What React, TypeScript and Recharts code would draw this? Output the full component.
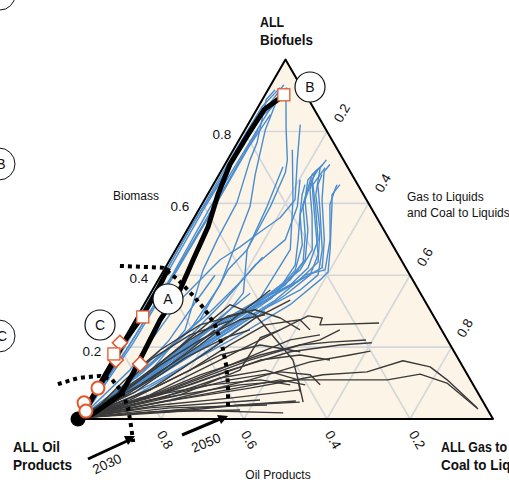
import { ComposedChart, Line, Scatter, XAxis, YAxis, ReferenceArea } from 'recharts';

// ternary points are [biofuel share, gas/coal-to-liquids share]; oil = 1 - both
type Tern = [number, number];

const SQ = Math.sqrt(3) / 2;
const toXY = (pts: Tern[]) => pts.map(([b, g]) => ({ x: g + b / 2, y: b * SQ }));

const BLUE = '#4a8dcf';
const GREY = '#3a3a3a';
const ORANGE = '#e2592c';
const FONT = "'Liberation Sans', Arial, sans-serif";

const gridLevels = [0.2, 0.4, 0.6, 0.8];
const leftTicks = ['0.2', '0.4', '0.6', '0.8'];
const rightTicks = ['0.2', '0.4', '0.6', '0.8'];
const bottomTicks = ['0.8', '0.6', '0.4', '0.2'];

// scenario pathways that end strongly in biofuels (blue)
const hook1: Tern[] = [[0, 0], [0.095, 0.078], [0.234, 0.177], [0.331, 0.273], [0.387, 0.342], [0.421, 0.378], [0.499, 0.344], [0.61, 0.283], [0.688, 0.249], [0.708, 0.253]];
const hook2: Tern[] = [[0, 0], [0.095, 0.09], [0.248, 0.194], [0.331, 0.286], [0.382, 0.339], [0.437, 0.36], [0.526, 0.32], [0.624, 0.261], [0.699, 0.234], [0.721, 0.238]];
const hook3: Tern[] = [[0.003, 0.004], [0.109, 0.095], [0.262, 0.199], [0.351, 0.288], [0.415, 0.328], [0.471, 0.329], [0.568, 0.28], [0.638, 0.24], [0.688, 0.227], [0.708, 0.236]];
const hook4: Tern[] = [[0.003, 0.004], [0.081, 0.085], [0.206, 0.179], [0.318, 0.268], [0.387, 0.318], [0.443, 0.326], [0.526, 0.291], [0.61, 0.242], [0.666, 0.221], [0.694, 0.231]];
const hook5: Tern[] = [[0.006, 0.007], [0.095, 0.102], [0.234, 0.225], [0.331, 0.31], [0.401, 0.347], [0.415, 0.388], [0.499, 0.358], [0.596, 0.309], [0.638, 0.3], [0.652, 0.298]];
const hook6: Tern[] = [[0.003, 0.004], [0.109, 0.119], [0.248, 0.23], [0.337, 0.299], [0.415, 0.316], [0.485, 0.298], [0.568, 0.251], [0.624, 0.228], [0.652, 0.221]];
const hook7: Tern[] = [[0.003, 0.004], [0.075, 0.076], [0.192, 0.162], [0.29, 0.245], [0.373, 0.313], [0.437, 0.324], [0.513, 0.291], [0.596, 0.244], [0.68, 0.224], [0.699, 0.234]];
const hook8: Tern[] = [[0.006, 0.007], [0.1, 0.111], [0.22, 0.22], [0.312, 0.302], [0.359, 0.356], [0.401, 0.378], [0.471, 0.353], [0.582, 0.292], [0.652, 0.252], [0.68, 0.248]];
const hook9: Tern[] = [[0.003, 0.004], [0.123, 0.137], [0.262, 0.259], [0.345, 0.327], [0.401, 0.359], [0.457, 0.35], [0.554, 0.294], [0.624, 0.254], [0.666, 0.231], [0.694, 0.231]];
const hook10: Tern[] = [[0.003, 0.004], [0.095, 0.098], [0.226, 0.193], [0.304, 0.262], [0.373, 0.325], [0.421, 0.344], [0.499, 0.329], [0.582, 0.282], [0.652, 0.24], [0.699, 0.246]];
const hook11: Tern[] = [[0.006, 0.007], [0.095, 0.126], [0.234, 0.273], [0.318, 0.352], [0.387, 0.39], [0.409, 0.398], [0.471, 0.372], [0.596, 0.314], [0.624, 0.3], [0.652, 0.305]];
const hook12: Tern[] = [[0.003, 0.004], [0.067, 0.068], [0.164, 0.164], [0.276, 0.24], [0.345, 0.303], [0.429, 0.309], [0.499, 0.281], [0.568, 0.251], [0.666, 0.231]];
const diag1: Tern[] = [[0.003, 0.004], [0.15, 0.098], [0.276, 0.156], [0.415, 0.154], [0.471, 0.172], [0.591, 0.168], [0.685, 0.157], [0.721, 0.144], [0.805, 0.099], [0.922, 0.04]];
const diag2: Tern[] = [[0.003, 0.004], [0.136, 0.057], [0.331, 0.081], [0.443, 0.121], [0.479, 0.151], [0.521, 0.179], [0.56, 0.207], [0.61, 0.218], [0.721, 0.168], [0.819, 0.126]];
const diag3: Tern[] = [[0.003, 0.004], [0.131, 0.108], [0.248, 0.134], [0.415, 0.094], [0.499, 0.086], [0.602, 0.082], [0.721, 0.054], [0.769, 0.047], [0.889, 0.009], [0.916, 0.017]];
const diag4: Tern[] = [[0.003, 0.004], [0.15, 0.147], [0.304, 0.214], [0.351, 0.223], [0.471, 0.172], [0.591, 0.16], [0.702, 0.143]];
const diag5: Tern[] = [[0.003, 0.004], [0.123, 0.088], [0.248, 0.146], [0.373, 0.156], [0.591, 0.119], [0.68, 0.087], [0.805, 0.049], [0.911, 0.032]];
const diag6: Tern[] = [[0.003, 0.004], [0.164, 0.164], [0.29, 0.269], [0.471, 0.276], [0.61, 0.213], [0.749, 0.142]];
const diag7: Tern[] = [[0.006, 0.007], [0.159, 0.131], [0.331, 0.189], [0.429, 0.213], [0.499, 0.25], [0.591, 0.233], [0.666, 0.202]];
const fan1: Tern[] = [[0.003, 0.004], [0.1, 0.07], [0.2, 0.12], [0.3, 0.17], [0.38, 0.2], [0.45, 0.22]];
const fan2: Tern[] = [[0.003, 0.004], [0.08, 0.09], [0.18, 0.15], [0.28, 0.2], [0.35, 0.24]];
const fan3: Tern[] = [[0.003, 0.004], [0.12, 0.08], [0.22, 0.11], [0.32, 0.12], [0.4, 0.13]];
const fan4: Tern[] = [[0.003, 0.004], [0.06, 0.1], [0.14, 0.18], [0.22, 0.24], [0.3, 0.3]];
const edge1: Tern[] = [[0.003, 0.001], [0.198, 0.005], [0.393, 0.006], [0.582, 0.006], [0.749, 0.006], [0.869, 0.009], [0.922, 0.026]];
const edge2: Tern[] = [[0.003, 0.004], [0.198, 0.012], [0.401, 0.012], [0.591, 0.011], [0.749, 0.016], [0.861, 0.021], [0.93, 0.031]];
const edge3: Tern[] = [[0.003, 0.006], [0.198, 0.021], [0.401, 0.027], [0.588, 0.024], [0.749, 0.028], [0.855, 0.031], [0.922, 0.043]];
const edge4: Tern[] = [[0.003, 0.004], [0.178, 0.007], [0.359, 0.007], [0.54, 0.005], [0.699, 0.012], [0.838, 0.02], [0.903, 0.048]];
const edge5: Tern[] = [[0.003, 0.009], [0.206, 0.027], [0.409, 0.032], [0.588, 0.034], [0.755, 0.033], [0.847, 0.04]];
const edge6: Tern[] = [[0.003, 0.004], [0.192, 0.02], [0.387, 0.029], [0.554, 0.031], [0.68, 0.031], [0.805, 0.032]];

const blueLines = [edge1, edge2, edge3, edge4, edge5, edge6, diag1, diag2, diag3, diag4, diag5, diag6, diag7,
  fan1, fan2, fan3, fan4, hook1, hook2, hook3, hook4, hook5, hook6, hook7, hook8, hook9, hook10, hook11, hook12];

// scenario pathways that stay mostly oil / synthetic fuels (dark grey)
const grey1: Tern[] = [[0.003, 0.004], [0.053, 0.147], [0.095, 0.343], [0.109, 0.481], [0.109, 0.691], [0.125, 0.762], [0.1, 0.839], [0.028, 0.95]];
const grey2: Tern[] = [[0.003, 0.004], [0.047, 0.175], [0.086, 0.371], [0.123, 0.529], [0.131, 0.631], [0.162, 0.702], [0.145, 0.776], [0.109, 0.835], [0.031, 0.946]];
const grey3: Tern[] = [[0.003, 0.004], [0.067, 0.14], [0.164, 0.26], [0.234, 0.346], [0.287, 0.411], [0.281, 0.448], [0.262, 0.452], [0.267, 0.592]];
const grey4: Tern[] = [[0.003, 0.004], [0.067, 0.165], [0.136, 0.298], [0.187, 0.418], [0.206, 0.528], [0.212, 0.602]];
const grey5: Tern[] = [[0.003, 0.004], [0.053, 0.196], [0.109, 0.36], [0.159, 0.48], [0.178, 0.566], [0.189, 0.61]];
const grey6: Tern[] = [[0.003, 0.004], [0.025, 0.234], [0.017, 0.486]];
const grey7: Tern[] = [[0.003, 0.004], [0.031, 0.207], [0.039, 0.436]];
const grey8: Tern[] = [[0.003, 0.004], [0.039, 0.179], [0.058, 0.337], [0.081, 0.495]];
const grey9: Tern[] = [[0.003, 0.004], [0.053, 0.123], [0.123, 0.233], [0.178, 0.35], [0.22, 0.473], [0.248, 0.507]];
const grey10: Tern[] = [[0.003, 0.004], [0.081, 0.133], [0.192, 0.222], [0.281, 0.287], [0.331, 0.346]];
const grey11: Tern[] = [[0.003, 0.004], [0.095, 0.102], [0.206, 0.191], [0.304, 0.25], [0.359, 0.284]];
const grey12: Tern[] = [[0.003, 0.004], [0.067, 0.153], [0.15, 0.291], [0.22, 0.401], [0.234, 0.466]];
const grey13: Tern[] = [[0.003, 0.004], [0.109, 0.095], [0.248, 0.17], [0.318, 0.207], [0.29, 0.282], [0.164, 0.436], [0.109, 0.476], [0.075, 0.498]];
const grey14: Tern[] = [[0.003, 0.004], [0.058, 0.169], [0.114, 0.285], [0.136, 0.383], [0.109, 0.476], [0.047, 0.519]];
const grey15: Tern[] = [[0.003, 0.004], [0.067, 0.213], [0.136, 0.322], [0.226, 0.326], [0.248, 0.363]];
const grey16: Tern[] = [[0.003, 0.004], [0.053, 0.099], [0.136, 0.202], [0.206, 0.263], [0.262, 0.32], [0.276, 0.397], [0.248, 0.435]];
const grey17: Tern[] = [[0.003, 0.004], [0.031, 0.279], [0.05, 0.5]];
const grey18: Tern[] = [[0.003, 0.004], [0.031, 0.157], [0.053, 0.412]];
const grey19: Tern[] = [[0.003, 0.004], [0.081, 0.181], [0.164, 0.332], [0.206, 0.432], [0.214, 0.5], [0.22, 0.584]];
const grey20: Tern[] = [[0.003, 0.004], [0.067, 0.068], [0.15, 0.123], [0.22, 0.184], [0.276, 0.252], [0.29, 0.306]];
const grey21: Tern[] = [[0.003, 0.004], [0.075, 0.1], [0.17, 0.173], [0.226, 0.241], [0.248, 0.29]];
const grey22: Tern[] = [[0.003, 0.004], [0.095, 0.223], [0.164, 0.357], [0.178, 0.446], [0.164, 0.525]];
const grey23: Tern[] = [[0.003, 0.004], [0.039, 0.058], [0.109, 0.119], [0.192, 0.174], [0.248, 0.206]];
const grey24: Tern[] = [[0.003, 0.004], [0.019, 0.164], [0.025, 0.378]];
const grey25: Tern[] = [[0.003, 0.004], [0.067, 0.261], [0.109, 0.433], [0.095, 0.5]];
const grey26: Tern[] = [[0.003, 0.004], [0.114, 0.092], [0.22, 0.16], [0.287, 0.218], [0.304, 0.275], [0.281, 0.347], [0.248, 0.411]];
const grey27: Tern[] = [[0.003, 0.004], [0.067, 0.189], [0.109, 0.312], [0.131, 0.422], [0.123, 0.498], [0.095, 0.536]];
const grey28: Tern[] = [[0.003, 0.004], [0.095, 0.151], [0.178, 0.253], [0.206, 0.336], [0.187, 0.442]];
const grey29: Tern[] = [[0.003, 0.004], [0.025, 0.028], [0.109, 0.059], [0.192, 0.102], [0.262, 0.163], [0.298, 0.258]];
const grey30: Tern[] = [[0.003, 0.004], [0.053, 0.051], [0.164, 0.091], [0.234, 0.153], [0.276, 0.235]];
const grey31: Tern[] = [[0.003, 0.004], [0.019, 0.212], [0.039, 0.371], [0.047, 0.511]];
const grey32: Tern[] = [[0.003, 0.004], [0.058, 0.12], [0.095, 0.271], [0.109, 0.385], [0.095, 0.464]];

const greyLines = [grey1, grey2, grey3, grey4, grey5, grey6, grey7, grey8, grey9, grey10, grey11, grey12, grey13, grey14, grey15, grey16,
  grey17, grey18, grey19, grey20, grey21, grey22, grey23, grey24, grey25, grey26, grey27, grey28, grey29, grey30, grey31, grey32];

// highlighted pathways A and C
const pathA: Tern[] = [[0, 0], [0.014, 0.029], [0.067, 0.068], [0.128, 0.069], [0.276, 0.06], [0.359, 0.066], [0.443, 0.056], [0.535, 0.046], [0.624, 0.025], [0.708, 0.012], [0.791, 0.014], [0.861, 0.018], [0.897, 0.043]];
const pathC: Tern[] = [[0, 0], [0.022, 0.006], [0.086, 0.006], [0.164, 0.007], [0.212, 0.003], [0.284, 0.012], [0.36, 0.012], [0.42, 0.008]];

// 2030 / 2050 boundaries
const arc2030: Tern[] = [[0.097, -0.097], [0.114, -0.057], [0.12, -0.007], [0.109, 0.028], [0.075, 0.069], [0.031, 0.105], [-0.017, 0.136], [-0.064, 0.165]];
const arc2050: Tern[] = [[0.426, -0.112], [0.421, -0.006], [0.387, 0.048], [0.343, 0.106], [0.304, 0.154], [0.262, 0.199], [0.206, 0.244], [0.15, 0.282], [0.095, 0.314], [0.033, 0.345]];

const circleMarks: Tern[] = [[0.045, -0.008], [0.022, 0.008], [0.086, 0.005]];
const diamondMarks: Tern[] = [[0.212, -0.005], [0.164, 0.009], [0.153, 0.073]];
const squareMarks: Tern[] = [[0.181, -0.004], [0.284, 0.014], [0.902, 0.045]];
const startMark: Tern[] = [[0, 0]];

const triangle: Tern[] = [[0, 0], [0, 1], [1, 0], [0, 0]];

const gridSegments: Tern[][] = gridLevels.flatMap((v) => [
  [[v, 0], [v, 1 - v]] as Tern[],
  [[0, v], [1 - v, v]] as Tern[],
  [[0, 1 - v], [1 - v, 0]] as Tern[],
]);

const CircleMark = (p: any) => <circle cx={p.cx} cy={p.cy} r={6.5} fill="#fff" stroke={ORANGE} strokeWidth={2} />;
const DiamondMark = (p: any) => (
  <polygon points={`${p.cx},${p.cy - 7.5} ${p.cx + 7.5},${p.cy} ${p.cx},${p.cy + 7.5} ${p.cx - 7.5},${p.cy}`} fill="#fff" stroke={ORANGE} strokeWidth={1.6} />
);
const SquareMark = (p: any) => <rect x={p.cx - 6} y={p.cy - 6} width={12} height={12} fill="#fff" stroke={ORANGE} strokeWidth={1.3} />;
const StartMark = (p: any) => <circle cx={p.cx} cy={p.cy} r={7.5} fill="#000" />;

const TriangleFill = (p: any) => (
  <polygon points={`${p.x},${p.y + p.height} ${p.x + p.width / 2},${p.y} ${p.x + p.width},${p.y + p.height}`} fill="#fdf4e8" />
);

const path = (pts: Tern[], key: string, stroke: string, width: number, dash?: string) => (
  <Line
    key={key}
    data={toXY(pts)}
    dataKey="y"
    type="linear"
    stroke={stroke}
    strokeWidth={width}
    strokeDasharray={dash}
    strokeLinejoin="round"
    dot={false}
    activeDot={false}
    isAnimationActive={false}
  />
);

function Labels() {
  const t = { fontFamily: FONT, fill: '#111' } as const;
  const bold = { ...t, fontSize: 15.5, fontWeight: 'bold', lengthAdjust: 'spacingAndGlyphs' } as const;
  return (
    <svg width={509} height={480} style={{ position: 'absolute', left: 0, top: 0, pointerEvents: 'none' }}>
      {/* circles from neighbouring panels */}
      <circle cx={0} cy={-5} r={15} fill="none" stroke="#111" strokeWidth={1} />
      <circle cx={-1} cy={164} r={16} fill="none" stroke="#111" strokeWidth={1} />
      <text x={1} y={169} textAnchor="middle" fontSize={14} {...t}>B</text>
      <circle cx={-1} cy={336} r={16} fill="none" stroke="#111" strokeWidth={1} />
      <text x={2} y={341} textAnchor="middle" fontSize={14} {...t}>C</text>

      <text x={260} y={27} textLength={24} {...bold}>ALL</text>
      <text x={260} y={45} textLength={53} {...bold}>Biofuels</text>
      <text x={13} y={452} textLength={47} {...bold}>ALL Oil</text>
      <text x={13} y={470} textLength={59} {...bold}>Products</text>
      <text x={441} y={452} textLength={66} {...bold}>ALL Gas to</text>
      <text x={441} y={470} textLength={97} {...bold}>Coal to Liquids</text>

      <text x={113} y={200} fontSize={12} {...t}>Biomass</text>
      <text x={407} y={201} fontSize={12} {...t}>Gas to Liquids</text>
      <text x={407} y={217} fontSize={12} {...t}>and Coal to Liquids</text>
      <text x={278} y={479} fontSize={12} textAnchor="middle" {...t}>Oil Products</text>

      {leftTicks.map((s, i) => {
        const pos = [[92, 356], [139, 283], [180, 211], [222, 139]][i];
        return <text key={s} x={pos[0]} y={pos[1]} fontSize={13.5} textAnchor="middle" {...t}>{s}</text>;
      })}
      {rightTicks.map((s, i) => {
        const pos = [[342, 113], [383, 183], [425, 257], [465, 328]][i];
        return (
          <text key={s} x={pos[0]} y={pos[1]} fontSize={13.5} textAnchor="middle" dominantBaseline="central" transform={`rotate(-60 ${pos[0]} ${pos[1]})`} {...t}>{s}</text>
        );
      })}
      {bottomTicks.map((s, i) => {
        const pos = [[165, 440], [249, 440], [333, 440], [417, 440]][i];
        return (
          <text key={s} x={pos[0]} y={pos[1]} fontSize={13.5} textAnchor="middle" dominantBaseline="central" transform={`rotate(60 ${pos[0]} ${pos[1]})`} {...t}>{s}</text>
        );
      })}

      {/* year arrows */}
      <line x1={88} y1={459} x2={127} y2={441} stroke="#000" strokeWidth={3} />
      <polygon points="135,436 128,445 124,436" fill="#000" />
      <text x={107} y={464} fontSize={13.5} textAnchor="middle" dominantBaseline="central" transform="rotate(-25 107 464)" {...t}>2030</text>
      <line x1={182} y1={435} x2={220} y2={419} stroke="#000" strokeWidth={3} />
      <polygon points="228,416 221,424 217,415" fill="#000" />
      <text x={206} y={443} fontSize={13.5} textAnchor="middle" dominantBaseline="central" transform="rotate(-22 206 443)" {...t}>2050</text>

      {/* pathway callouts */}
      {[['A', 168, 299], ['B', 310, 87], ['C', 100, 325]].map(([s, x, y]) => (
        <g key={s as string}>
          <circle cx={x as number} cy={y as number} r={15} fill="#fff" stroke="#111" strokeWidth={1.2} />
          <text x={x as number} y={(y as number) + 5} fontSize={14} textAnchor="middle" {...t}>{s}</text>
        </g>
      ))}
    </svg>
  );
}

export default function App() {
  return (
    <div style={{ position: 'absolute', left: 0, top: 0, width: 509, height: 480, background: '#fff' }}>
      <ComposedChart width={509} height={480} margin={{ top: 0, right: 0, bottom: 0, left: 0 }}>
        <XAxis type="number" dataKey="x" domain={[-78 / 415, -78 / 415 + 509 / 415]} allowDataOverflow hide />
        <YAxis type="number" dataKey="y" domain={[419 / 415 - 480 / 415, 419 / 415]} allowDataOverflow hide />
        <ReferenceArea x1={0} x2={1} y1={0} y2={SQ} shape={TriangleFill} ifOverflow="visible" />
        {gridSegments.map((seg, i) => path(seg, `grid${i}`, '#d3d7db', 1.6))}
        {blueLines.map((pts, i) => path(pts, `blue${i}`, BLUE, 1.4))}
        {greyLines.map((pts, i) => path(pts, `grey${i}`, GREY, 1.4))}
        {path(triangle, 'edge', '#000', 2)}
        {path(pathC, 'pathC', '#000', 5)}
        {path(pathA, 'pathA', '#000', 5)}
        {path(arc2030, 'arc2030', '#000', 4, '4 4')}
        {path(arc2050, 'arc2050', '#000', 4, '4 4')}
        <Scatter data={toXY(startMark)} dataKey="y" shape={StartMark} isAnimationActive={false} />
        <Scatter data={toXY(circleMarks)} dataKey="y" shape={CircleMark} isAnimationActive={false} />
        <Scatter data={toXY(diamondMarks)} dataKey="y" shape={DiamondMark} isAnimationActive={false} />
        <Scatter data={toXY(squareMarks)} dataKey="y" shape={SquareMark} isAnimationActive={false} />
      </ComposedChart>
      <Labels />
    </div>
  );
}
